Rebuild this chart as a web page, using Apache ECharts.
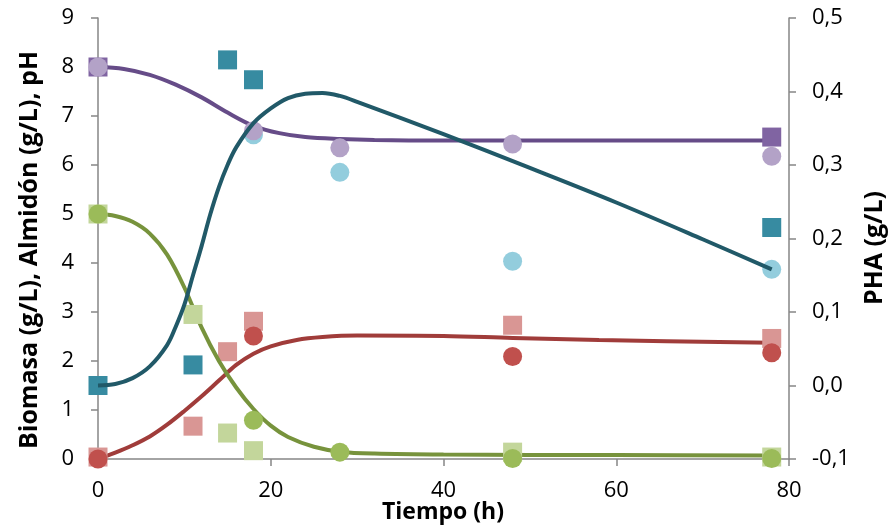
<!DOCTYPE html>
<html>
<head>
<meta charset="utf-8">
<script src="https://cdn.jsdelivr.net/npm/echarts@6/dist/echarts.min.js"></script>
<style>
  html, body { margin: 0; padding: 0; background: #fff; }
  #chart { width: 890px; height: 529px; }
</style>
</head>
<body>
<div id="chart"></div>
<script>
// Measured points (time in h)
const phA = [[0, 8.0], [78, 6.57]];
const phB = [[0, 8.0], [18, 6.70], [28, 6.35], [48, 6.43], [78, 6.18]];
const biomasaA = [[0, 0.04], [11, 0.67], [15, 2.19], [18, 2.81], [48, 2.73], [78, 2.46]];
const biomasaB = [[0, 0.0], [18, 2.51], [48, 2.09], [78, 2.17]];
const almidonA = [[0, 5.0], [11, 2.95], [15, 0.53], [18, 0.17], [48, 0.14], [78, 0.04]];
const almidonB = [[0, 5.0], [18, 0.79], [28, 0.14], [48, 0.01], [78, 0.01]];
const phaA = [[0, 0.0], [11, 0.028], [15, 0.443], [18, 0.416], [78, 0.215]];
const phaB = [[18, 0.341], [28, 0.290], [48, 0.169], [78, 0.158]];

// Model curves
const phModel = [[0, 8.0], [3, 7.96], [6, 7.84], [9, 7.64], [12, 7.38], [15, 7.07], [18, 6.80],
  [21, 6.65], [24, 6.57], [28, 6.53], [32, 6.51], [40, 6.50], [60, 6.50], [78, 6.50]];
const biomasaModel = [[0, 0.0], [2, 0.13], [4, 0.28], [6, 0.46], [8, 0.70], [10, 0.98], [12, 1.28],
  [14, 1.60], [16, 1.92], [18, 2.15], [20, 2.30], [23, 2.43], [26, 2.49], [30, 2.52], [40, 2.51],
  [48, 2.47], [58, 2.43], [78, 2.37]];
const almidonModel = [[0, 5.0], [2, 4.96], [4, 4.84], [6, 4.60], [8, 4.17], [10, 3.50], [12, 2.68],
  [14, 2.0], [16, 1.46], [18, 1.02], [20, 0.68], [22, 0.45], [25, 0.25], [28, 0.15], [32, 0.11],
  [40, 0.09], [60, 0.08], [78, 0.07]];
const phaModel = [[0, 0.0], [2, 0.002], [4, 0.01], [6, 0.026], [8, 0.055], [9, 0.08], [10, 0.11],
  [11, 0.15], [12, 0.19], [13, 0.233], [14, 0.27], [15, 0.30], [16, 0.324], [18, 0.357],
  [20, 0.377], [22, 0.391], [24, 0.397], [26, 0.398], [28, 0.394], [30, 0.386], [40, 0.342],
  [50, 0.296], [60, 0.249], [70, 0.199], [78, 0.158]];

const xTicks = { min: 0, max: 80, interval: 20 };
const leftTicks = { min: 0, max: 9, interval: 1 };
const rightTicks = { min: -0.1, max: 0.5, interval: 0.1 };

const FONT = '"Open Sans", "Noto Sans", sans-serif';
const axisGray = '#868686';

function line(data, color, yIndex, z) {
  return { type: 'line', data, yAxisIndex: yIndex, smooth: 0.35, showSymbol: false, symbol: 'none',
    lineStyle: { color, width: 4 }, z, silent: true };
}
function dots(data, color, shape, yIndex, z) {
  return { type: 'scatter', data, yAxisIndex: yIndex, symbol: shape, symbolSize: 19,
    itemStyle: { color, opacity: 1 }, z, silent: true };
}

const chart = echarts.init(document.getElementById('chart'), null, { renderer: 'canvas' });
chart.setOption({
  animation: false,
  backgroundColor: '#fff',
  grid: { left: 98, right: 101, top: 18, bottom: 70, containLabel: false },
  xAxis: {
    type: 'value', min: xTicks.min, max: xTicks.max, interval: xTicks.interval,
    axisLine: { show: true, onZero: false, lineStyle: { color: axisGray, width: 1.5 } },
    axisTick: { show: true, inside: false, length: 7, lineStyle: { color: axisGray, width: 1.5 } },
    splitLine: { show: false },
    axisLabel: { fontFamily: FONT, fontSize: 22, color: '#000', margin: 21 }
  },
  yAxis: [
    {
      type: 'value', position: 'left', min: leftTicks.min, max: leftTicks.max, interval: leftTicks.interval,
      axisLine: { show: true, lineStyle: { color: axisGray, width: 1.5 } },
      axisTick: { show: true, length: 7, lineStyle: { color: axisGray, width: 1.5 } },
      splitLine: { show: false },
      axisLabel: { fontFamily: FONT, fontSize: 22, color: '#000', margin: 24 }
    },
    {
      type: 'value', position: 'right', min: rightTicks.min, max: rightTicks.max, interval: rightTicks.interval,
      axisLine: { show: true, lineStyle: { color: axisGray, width: 1.5 } },
      axisTick: { show: true, length: 7, lineStyle: { color: axisGray, width: 1.5 } },
      splitLine: { show: false },
      axisLabel: { fontFamily: FONT, fontSize: 22, color: '#000', margin: 23,
        formatter: v => v.toFixed(1).replace('.', ',') }
    }
  ],
  graphic: [
    { type: 'text', x: 30, y: 250, rotation: Math.PI / 2,
      style: { text: 'Biomasa (g/L), Almidón (g/L), pH', font: 'bold 25px ' + FONT, fill: '#000',
        textAlign: 'center', textVerticalAlign: 'middle' } },
    { type: 'text', x: 875, y: 248, rotation: Math.PI / 2,
      style: { text: 'PHA (g/L)', font: 'bold 25px ' + FONT, fill: '#000',
        textAlign: 'center', textVerticalAlign: 'middle' } },
    { type: 'text', x: 443, y: 512,
      style: { text: 'Tiempo (h)', font: 'bold 23px ' + FONT, fill: '#000',
        textAlign: 'center', textVerticalAlign: 'middle' } }
  ],
  series: [
    dots(phaB, '#93CDDD', 'circle', 1, 2),
    dots(phaA, '#378BA1', 'rect', 1, 3),
    line(phModel, '#664C88', 0, 4),
    dots(phA, '#8064A2', 'rect', 0, 5),
    dots(phB, '#B3A2C7', 'circle', 0, 6),
    line(biomasaModel, '#A03C3A', 0, 7),
    dots(biomasaA, '#D99694', 'rect', 0, 8),
    dots(biomasaB, '#C0504D', 'circle', 0, 9),
    line(almidonModel, '#77933C', 0, 10),
    dots(almidonA, '#C3D69B', 'rect', 0, 11),
    dots(almidonB, '#9BBB59', 'circle', 0, 12),
    line(phaModel, '#215968', 1, 13)
  ]
});
</script>
</body>
</html>
